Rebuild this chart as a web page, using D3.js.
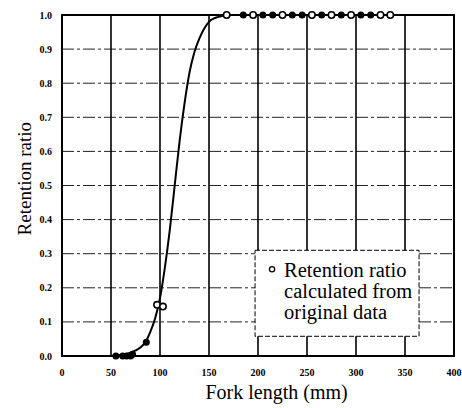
<!DOCTYPE html>
<html>
<head>
<meta charset="utf-8">
<script src="https://cdn.jsdelivr.net/npm/d3@7"></script>
<style>
  body { margin: 0; background: #fff; }
</style>
</head>
<body>
<div id="chart"></div>
<script>
// Fitted retention curve (fork length mm, ratio)
const curveLength = [50, 60, 70, 80, 85, 90, 95, 100, 105, 110, 115, 120, 125, 130, 135, 140, 145, 150, 155, 160, 170, 340];
const curveRatio  = [0, 0.003, 0.01, 0.025, 0.04, 0.07, 0.11, 0.17, 0.26, 0.37, 0.5, 0.63, 0.74, 0.83, 0.89, 0.93, 0.96, 0.98, 0.99, 0.995, 1.0, 1.0];

// Observed points (filled and open markers)
const filledLength = [55, 62, 66, 70, 72, 86, 185, 205, 215, 235, 245, 265, 285, 305, 315];
const filledRatio  = [0, 0, 0, 0, 0.005, 0.04, 1, 1, 1, 1, 1, 1, 1, 1, 1];
const openLength = [97, 103, 168, 195, 225, 255, 275, 295, 325, 335];
const openRatio  = [0.15, 0.145, 1, 1, 1, 1, 1, 1, 1, 1];

const xTicks = [0, 50, 100, 150, 200, 250, 300, 350, 400];
const yTicks = [0, 0.1, 0.2, 0.3, 0.4, 0.5, 0.6, 0.7, 0.8, 0.9, 1.0];
const legendLines = ["Retention ratio", "calculated from", "original data"];

const FONT = "'Liberation Serif', 'Times New Roman', 'DejaVu Serif', serif";
const W = 462, H = 408;
const margin = {top: 15, right: 8, bottom: 52, left: 62};
const width = W - margin.left - margin.right,
      height = H - margin.top - margin.bottom;

const svg = d3.select("#chart").append("svg")
    .attr("width", W)
    .attr("height", H)
    .attr("font-family", FONT);

const g = svg.append("g")
    .attr("transform", `translate(${margin.left},${margin.top})`);

const x = d3.scaleLinear().domain([0, 400]).range([0, width]);
const y = d3.scaleLinear().domain([0, 1]).range([height, 0]);

// Horizontal grid (dash-dot)
g.selectAll(".hgrid")
    .data(yTicks.slice(1, -1))
    .enter().append("line")
    .attr("x1", 0).attr("x2", width)
    .attr("y1", d => y(d)).attr("y2", d => y(d))
    .attr("stroke", "#222")
    .attr("stroke-width", 1)
    .attr("stroke-dasharray", "12,3,3,3");

// Vertical grid (solid)
g.selectAll(".vgrid")
    .data(xTicks.slice(1, -1))
    .enter().append("line")
    .attr("x1", d => x(d)).attr("x2", d => x(d))
    .attr("y1", 0).attr("y2", height)
    .attr("stroke", "#000")
    .attr("stroke-width", 1.6);

// Legend box
const lg = g.append("g").attr("transform", `translate(${x(197)},${y(0.31)})`);
lg.append("rect")
    .attr("width", 164).attr("height", 86)
    .attr("fill", "#fff")
    .attr("stroke", "#000")
    .attr("stroke-width", 1)
    .attr("stroke-dasharray", "5,2");
lg.append("circle")
    .attr("cx", 17).attr("cy", 19)
    .attr("r", 2.6)
    .attr("fill", "#fff").attr("stroke", "#000").attr("stroke-width", 1.3);
lg.selectAll(".ltext")
    .data(legendLines)
    .enter().append("text")
    .attr("x", 29)
    .attr("y", (d, i) => 27 + i * 21)
    .style("font-size", "20.5px")
    .text(d => d);

// Plot frame
g.append("rect")
    .attr("width", width).attr("height", height)
    .attr("fill", "none")
    .attr("stroke", "#000")
    .attr("stroke-width", 2);

// Fitted curve
const curveData = curveLength.map((d, i) => [d, curveRatio[i]]);
g.append("path")
    .datum(curveData)
    .attr("fill", "none")
    .attr("stroke", "#000")
    .attr("stroke-width", 2)
    .attr("d", d3.line().x(d => x(d[0])).y(d => y(d[1])).curve(d3.curveMonotoneX));

// Markers
g.selectAll(".filled")
    .data(filledLength.map((d, i) => [d, filledRatio[i]]))
    .enter().append("circle")
    .attr("cx", d => x(d[0])).attr("cy", d => y(d[1]))
    .attr("r", 3.5)
    .attr("fill", "#000");

g.selectAll(".open")
    .data(openLength.map((d, i) => [d, openRatio[i]]))
    .enter().append("circle")
    .attr("cx", d => x(d[0])).attr("cy", d => y(d[1]))
    .attr("r", 3.2)
    .attr("fill", "#fff")
    .attr("stroke", "#000")
    .attr("stroke-width", 1.6);

// Axes tick labels
g.selectAll(".xlab")
    .data(xTicks)
    .enter().append("text")
    .attr("x", d => x(d))
    .attr("y", height + 20)
    .attr("text-anchor", "middle")
    .style("font-size", "10px")
    .style("font-weight", "bold")
    .text(d => d);

g.selectAll(".ylab")
    .data(yTicks)
    .enter().append("text")
    .attr("x", -10)
    .attr("y", d => y(d))
    .attr("dy", "0.35em")
    .attr("text-anchor", "end")
    .style("font-size", "10px")
    .style("font-weight", "bold")
    .text(d => d.toFixed(1));

// Axis titles
g.append("text")
    .attr("x", x(219))
    .attr("y", height + 43)
    .attr("text-anchor", "middle")
    .style("font-size", "20px")
    .text("Fork length (mm)");

g.append("text")
    .attr("transform", "rotate(-90)")
    .attr("x", -(y(0.52)))
    .attr("y", -31)
    .attr("text-anchor", "middle")
    .style("font-size", "19px")
    .text("Retention ratio");
</script>
</body>
</html>
